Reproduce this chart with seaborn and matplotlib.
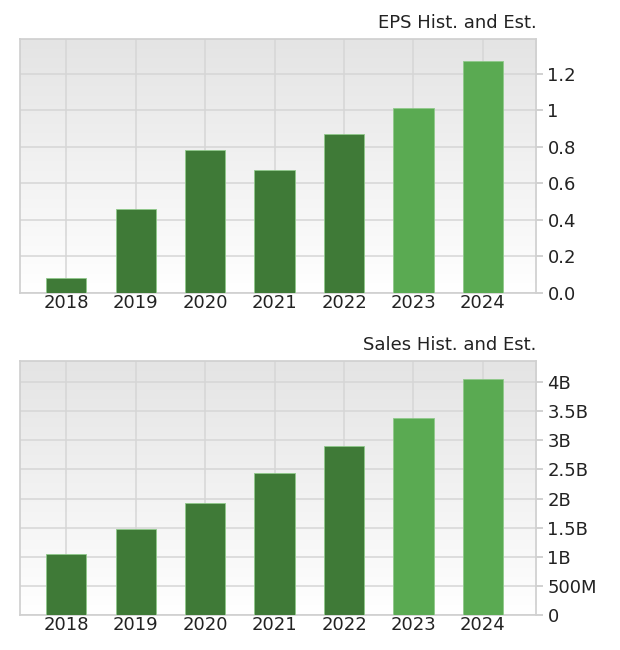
import numpy as np
import pandas as pd
import matplotlib
matplotlib.use("Agg")
import matplotlib.pyplot as plt
import seaborn as sns
from matplotlib.ticker import FuncFormatter

years = ["2018", "2019", "2020", "2021", "2022", "2023", "2024"]
eps = [0.08, 0.46, 0.78, 0.67, 0.87, 1.01, 1.27]
sales = [1.04e9, 1.48e9, 1.93e9, 2.44e9, 2.90e9, 3.39e9, 4.06e9]
kind = ["Hist", "Hist", "Hist", "Hist", "Hist", "Est", "Est"]

colors = {"Hist": "#3f7a37", "Est": "#5aaa52"}

sns.set_theme(style="white")
plt.rcParams["font.family"] = ["DejaVu Sans"]


def sales_fmt(v, pos):
    if v == 0:
        return "0"
    if v >= 1e9:
        return f"{v / 1e9:g}B"
    return f"{v / 1e6:g}M"


def draw(ax, values, title, ymax, step, fmt):
    df = pd.DataFrame({"year": years, "value": values, "kind": kind})
    # gradient background, grey at the top fading to white
    grad = np.linspace(0, 1, 256).reshape(-1, 1)
    ax.imshow(grad, extent=(-0.67, 6.77, 0, ymax), aspect="auto",
              cmap=matplotlib.colors.LinearSegmentedColormap.from_list(
                  "bg", ["#ffffff", "#e4e4e4"]),
              origin="lower", zorder=0)
    sns.barplot(data=df, x="year", y="value", hue="kind", palette=colors,
                dodge=False, width=0.58, legend=False, ax=ax, saturation=1,
                edgecolor="#8fc98a", linewidth=0.6, zorder=3)
    ax.set_xlim(-0.67, 6.77)
    ax.set_ylim(0, ymax)
    ax.set_yticks(np.arange(0, ymax - 1e-9, step))
    ax.yaxis.set_major_formatter(FuncFormatter(fmt))
    ax.yaxis.tick_right()
    ax.grid(True, color="#d6d6d6", linewidth=1.1, zorder=1)
    ax.set_axisbelow(True)
    for s in ax.spines.values():
        s.set_color("#d0d0d0")
    ax.tick_params(axis="y", which="major", right=True, length=5, color="#cccccc",
                   labelsize=13, labelcolor="#222222", pad=3)
    ax.tick_params(axis="x", length=0, labelsize=13, labelcolor="#222222", pad=1)
    ax.set_xlabel("")
    ax.set_ylabel("")
    ax.set_title(title, loc="right", fontsize=13, color="#222222", pad=8)


fig, (ax1, ax2) = plt.subplots(2, 1, figsize=(6.2, 6.5), dpi=100)
fig.subplots_adjust(left=0.032, right=0.865, top=0.94, bottom=0.054, hspace=0.27)

draw(ax1, eps, "EPS Hist. and Est.", 1.39, 0.2,
     lambda v, p: "0.0" if v == 0 else f"{v:g}")
draw(ax2, sales, "Sales Hist. and Est.", 4.36e9, 0.5e9, sales_fmt)

fig.savefig("out.png", dpi=100)
